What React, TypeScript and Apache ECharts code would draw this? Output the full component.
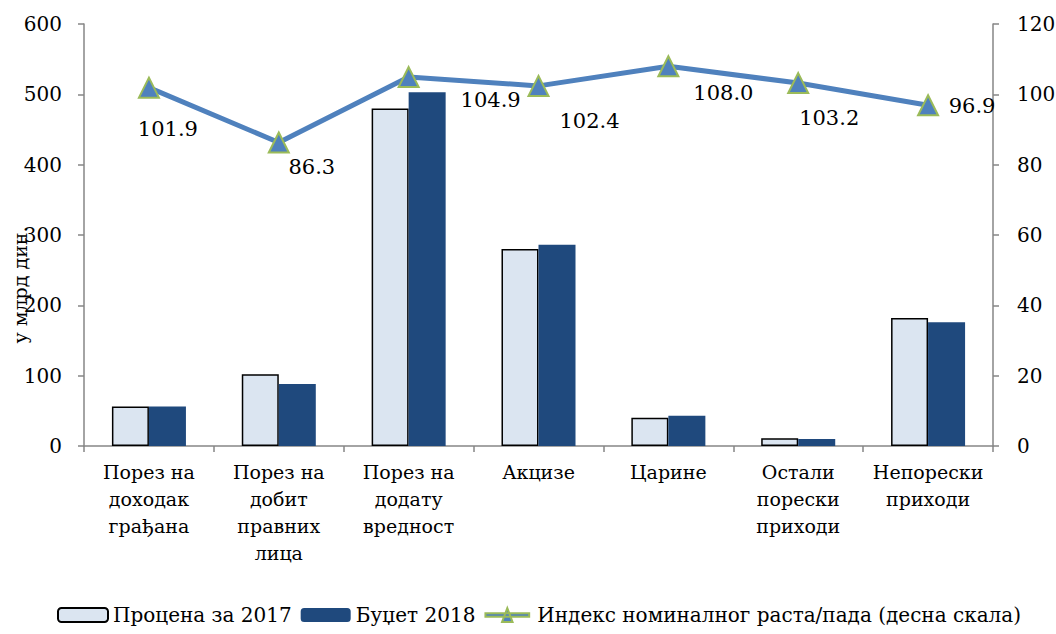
import React, { useEffect, useRef } from "react";
import * as echarts from "echarts";

const categories = [
  "Порез на\nдоходак\nграђана",
  "Порез на\nдобит\nправних\nлица",
  "Порез на\nдодату\nвредност",
  "Акцизе",
  "Царине",
  "Остали\nпорески\nприходи",
  "Непорески\nприходи",
];
const estimate2017 = [56, 102, 480, 280, 40, 11, 182];
const budget2018 = [56, 88, 503, 286, 43, 10, 176];
const growthIndex = [101.9, 86.3, 104.9, 102.4, 108.0, 103.2, 96.9];
const labelOffsets: [number, number][] = [
  [19, 41],
  [33, 24],
  [82, 23],
  [51, 35],
  [55, 27],
  [31, 35],
  [44, 1],
];
const seriesNames = [
  "Процена за 2017",
  "Буџет 2018",
  "Индекс номиналног раста/пада (десна скала)",
];

const FONT = "'DejaVu Serif', serif";

export default function App() {
  const ref = useRef<HTMLDivElement>(null);
  useEffect(() => {
    if (!ref.current) return;
    const chart = echarts.init(ref.current, undefined, { renderer: "svg" });
    const axisLine = { show: true, lineStyle: { color: "#868686", width: 1.5 } };
    chart.setOption({
      animation: false,
      backgroundColor: "#ffffff",
      textStyle: { fontFamily: FONT },
      grid: { left: 84, right: 63, top: 24, bottom: 188, outerBoundsMode: "none", containLabel: false },
      legend: {
        bottom: 4,
        left: 52,
        itemWidth: 50,
        itemHeight: 14,
        itemGap: 9,
        textStyle: { fontFamily: FONT, fontSize: 20, color: "#000" },
        data: [
          { name: seriesNames[0] },
          { name: seriesNames[1] },
          { name: seriesNames[2], icon: "path://M0,6 L50,6 L50,10 L0,10 Z M25,0 L31,16 L19,16 Z" },
        ],
      },
      xAxis: {
        type: "category",
        data: categories,
        axisLine,
        axisTick: { show: true, length: 6, lineStyle: { color: "#868686", width: 1.5 } },
        axisLabel: {
          interval: 0,
          fontFamily: FONT,
          fontSize: 19,
          lineHeight: 27,
          color: "#000",
          margin: 12,
          verticalAlign: "top",
        },
      },
      yAxis: [
        {
          type: "value",
          min: 0,
          max: 600,
          interval: 100,
          name: "у млрд дин.",
          nameLocation: "middle",
          nameGap: 55,
          nameRotate: 90,
          nameMoveOverlap: false,
          nameTextStyle: { fontFamily: FONT, fontSize: 19, color: "#000", padding: [0, 100, 0, 0] },
          axisLine,
          axisTick: { show: true, length: 6, lineStyle: { color: "#868686", width: 1.5 } },
          axisLabel: { fontFamily: FONT, fontSize: 20, color: "#000", margin: 22 },
          splitLine: { show: false },
        },
        {
          type: "value",
          min: 0,
          max: 120,
          interval: 20,
          position: "right",
          axisLine,
          axisTick: { show: true, length: 6, lineStyle: { color: "#868686", width: 1.5 } },
          axisLabel: { fontFamily: FONT, fontSize: 20, color: "#000", margin: 24 },
          splitLine: { show: false },
        },
      ],
      series: [
        {
          name: seriesNames[0],
          type: "bar",
          data: estimate2017,
          barGap: "0%",
          barCategoryGap: "43%",
          itemStyle: { color: "#DBE5F1", borderColor: "#000", borderWidth: 1.5 },
        },
        {
          name: seriesNames[1],
          type: "bar",
          data: budget2018,
          itemStyle: { color: "#1F497D" },
        },
        {
          name: seriesNames[2],
          type: "line",
          yAxisIndex: 1,
          data: growthIndex.map((v, i) => ({
            value: v,
            label: {
              show: true,
              position: "inside",
              offset: labelOffsets[i],
              formatter: (p: any) => Number(p.value).toFixed(1),
              fontFamily: FONT,
              fontSize: 21,
              color: "#000",
            },
          })),
          symbol: "triangle",
          symbolSize: 20,
          lineStyle: { color: "#4F81BD", width: 5 },
          itemStyle: { color: "#4F81BD", borderColor: "#9BBB59", borderWidth: 2 },
          z: 5,
        },
      ],
    });
    return () => chart.dispose();
  }, []);
  return (
    <div
      ref={ref}
      style={{ position: "fixed", left: 0, top: 0, width: 1056, height: 634 }}
    />
  );
}
